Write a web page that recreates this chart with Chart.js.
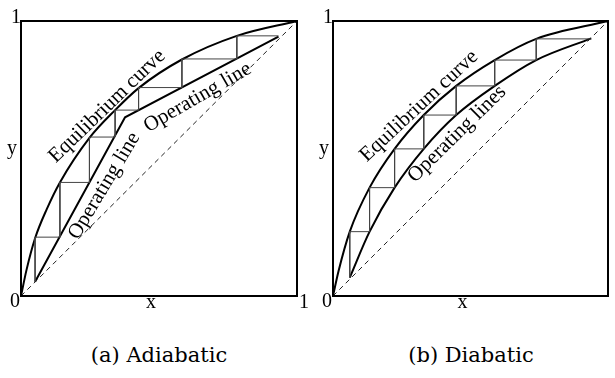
<!DOCTYPE html>
<html>
<head>
<meta charset="utf-8">
<script src="https://cdn.jsdelivr.net/npm/chart.js@4"></script>
<style>
  body { margin: 0; background: #fff; }
  #wrap { position: relative; width: 615px; height: 378px; }
  canvas { position: absolute; top: 0; }
  #left { left: 0; }
  #right { left: 310px; }
  .caption { position: absolute; top: 343px; width: 300px; text-align: center;
             font-family: "DejaVu Serif", serif; font-size: 21px; color: #000; }
</style>
</head>
<body>
<div id="wrap">
  <canvas id="left" width="310" height="320"></canvas>
  <canvas id="right" width="305" height="320"></canvas>
  <div class="caption" style="left: 9px;">(a) Adiabatic</div>
  <div class="caption" style="left: 321px;">(b) Diabatic</div>
</div>
<script>
// (a) adiabatic
const adiEqX = [0, 0.02, 0.051, 0.093, 0.141, 0.248, 0.341, 0.426, 0.583, 0.782, 1];
const adiEqY = [0, 0.095, 0.21, 0.315, 0.413, 0.575, 0.676, 0.756, 0.86, 0.946, 1];
const adiOpX = [0.051, 0.377, 0.933];
const adiOpY = [0.052, 0.650, 0.943];
const adiStepX = [0.933, 0.782, 0.782, 0.583, 0.583, 0.426, 0.426, 0.341, 0.341, 0.248, 0.248, 0.141, 0.141, 0.051, 0.051];
const adiStepY = [0.946, 0.946, 0.862, 0.862, 0.758, 0.758, 0.676, 0.676, 0.578, 0.578, 0.413, 0.413, 0.214, 0.214, 0.052];

// (b) diabatic
const diaEqX = [0, 0.02, 0.061, 0.133, 0.224, 0.330, 0.448, 0.588, 0.739, 1];
const diaEqY = [0, 0.09, 0.234, 0.394, 0.535, 0.658, 0.764, 0.858, 0.935, 1];
const diaOpX = [0.061, 0.133, 0.224, 0.330, 0.448, 0.588, 0.739, 0.939];
const diaOpY = [0.067, 0.234, 0.394, 0.535, 0.658, 0.764, 0.858, 0.937];
const diaStepX = [0.939, 0.739, 0.739, 0.588, 0.588, 0.448, 0.448, 0.330, 0.330, 0.224, 0.224, 0.133, 0.133, 0.061, 0.061];
const diaStepY = [0.935, 0.935, 0.858, 0.858, 0.764, 0.764, 0.658, 0.658, 0.535, 0.535, 0.394, 0.394, 0.234, 0.234, 0.067];

const diagX = [0, 1];
const diagY = [0, 1];

const adiLabels = [
  { text: 'Equilibrium curve', x: 0.312, y: 0.69, angle: -44 },
  { text: 'Operating line', x: 0.302, y: 0.40, angle: -59 },
  { text: 'Operating line', x: 0.64, y: 0.722, angle: -30 }
];
const diaLabels = [
  { text: 'Equilibrium curve', x: 0.313, y: 0.69, angle: -43 },
  { text: 'Operating lines', x: 0.451, y: 0.589, angle: -44.5 }
];

const FONT = '21px "Liberation Serif"';
const CORNER_FONT = '20px "Liberation Serif"';

function pts(xs, ys) {
  return xs.map((x, i) => ({ x, y: ys[i] }));
}

// box, curve labels and corner ticks
const decor = {
  id: 'decor',
  afterDatasetsDraw(chart, args, opts) {
    const { ctx, chartArea: a, scales } = chart;
    ctx.save();
    ctx.strokeStyle = '#000';
    ctx.lineWidth = 2;
    ctx.strokeRect(a.left, a.top, a.right - a.left, a.bottom - a.top);

    ctx.fillStyle = '#000';
    ctx.font = FONT;
    ctx.textAlign = 'center';
    ctx.textBaseline = 'middle';
    opts.labels.forEach(l => {
      ctx.save();
      ctx.translate(scales.x.getPixelForValue(l.x), scales.y.getPixelForValue(l.y));
      ctx.rotate(l.angle * Math.PI / 180);
      ctx.fillText(l.text, 0, 0);
      ctx.restore();
    });

    ctx.font = CORNER_FONT;
    ctx.textBaseline = 'alphabetic';
    ctx.fillText('1', a.left - 5, a.top + 2);
    ctx.fillText('y', a.left - 9, (a.top + a.bottom) / 2 - 5);
    ctx.fillText('0', a.left - 6, a.bottom + 11);
    ctx.fillText('x', (a.left + a.right) / 2 - 8, a.bottom + 12);
    if (opts.rightOne) ctx.fillText('1', a.right + 7, a.bottom + 12);
    ctx.restore();
  }
};

function makeChart(id, padding, eq, op, steps, labels, rightOne, opCurved) {
  const ds = (data, extra) => Object.assign({
    data, borderColor: '#000', borderWidth: 2, pointRadius: 0,
    fill: false, clip: false, tension: 0
  }, extra);

  new Chart(document.getElementById(id), {
    type: 'line',
    data: {
      datasets: [
        ds(pts(diagX, diagY), { borderWidth: 1, borderDash: [5, 4], borderColor: '#222' }),
        ds(steps, { borderWidth: 1, borderColor: '#444' }),
        ds(eq, { cubicInterpolationMode: 'monotone' }),
        ds(op, opCurved ? { cubicInterpolationMode: 'monotone' } : {})
      ]
    },
    options: {
      responsive: false,
      animation: false,
      layout: { padding },
      plugins: {
        legend: { display: false },
        tooltip: { enabled: false },
        decor: { labels, rightOne }
      },
      scales: {
        x: { type: 'linear', min: 0, max: 1, display: false },
        y: { type: 'linear', min: 0, max: 1, display: false }
      }
    },
    plugins: [decor]
  });
}

function drawAll() {
  makeChart('left', { left: 21, top: 21, right: 13, bottom: 24 },
    pts(adiEqX, adiEqY), pts(adiOpX, adiOpY), pts(adiStepX, adiStepY), adiLabels, true, false);
  makeChart('right', { left: 23, top: 21, right: 7, bottom: 24 },
    pts(diaEqX, diaEqY), pts(diaOpX, diaOpY), pts(diaStepX, diaStepY), diaLabels, false, true);
}

document.fonts.load(FONT).then(drawAll, drawAll);
</script>
</body>
</html>
